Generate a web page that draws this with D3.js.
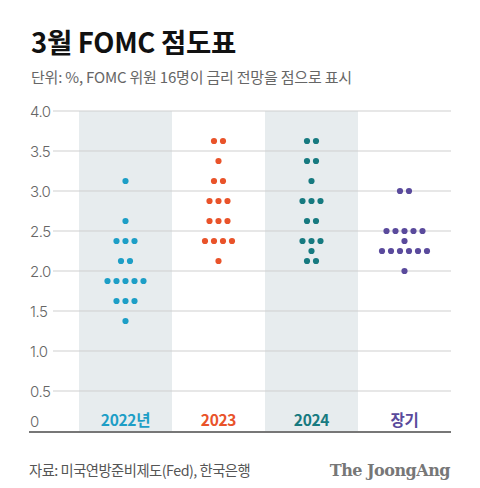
<!DOCTYPE html>
<html><head><meta charset="utf-8">
<script src="https://cdn.jsdelivr.net/npm/d3@7"></script>
<style>
body{margin:0;background:#fff;}
svg{display:block;font-family:"Noto Sans CJK KR","Noto Sans",sans-serif;}
</style></head><body>
<svg id="c" width="480" height="488"></svg>
<script>
const categories = ["2022년","2023","2024","장기"];
const colors = ["#1d9ec6","#e9532a","#177a80","#5a4a9c"];
const shaded = [true,false,true,false];
// rate levels and number of participants per level
const rates2022 = [3.125,2.625,2.375,2.125,1.875,1.625,1.375];
const counts2022 = [1,1,3,2,5,3,1];
const rates2023 = [3.625,3.375,3.125,2.875,2.625,2.375,2.125];
const counts2023 = [2,1,2,3,3,4,1];
const rates2024 = [3.625,3.375,3.125,2.875,2.625,2.375,2.25,2.125];
const counts2024 = [2,2,1,3,2,3,1,2];
const ratesLong = [3.0,2.5,2.375,2.25,2.0];
const countsLong = [2,5,1,6,1];
const yTicks = [0,0.5,1.0,1.5,2.0,2.5,3.0,3.5,4.0];

const series = [
  {rates:rates2022,counts:counts2022},
  {rates:rates2023,counts:counts2023},
  {rates:rates2024,counts:counts2024},
  {rates:ratesLong,counts:countsLong}
];

const svg = d3.select("#c");
const y = d3.scaleLinear().domain([0,4]).range([431,111]);
const x = d3.scaleBand().domain(categories).range([79,451]).padding(0);
const dotStep = 9;

// title
svg.append("text").attr("x",31).attr("y",53).attr("font-size",27.5).attr("font-weight",700)
  .attr("fill","#111").attr("letter-spacing",-0.3).text("3월 FOMC 점도표");
svg.append("text").attr("x",31).attr("y",83).attr("font-size",15).attr("fill","#666")
  .attr("letter-spacing",-0.2).text("단위: %, FOMC 위원 16명이 금리 전망을 점으로 표시");

// bands
svg.selectAll("rect.band").data(categories.filter((c,i)=>shaded[i])).enter().append("rect")
  .attr("x",d=>x(d)).attr("width",x.bandwidth()).attr("y",y(4)).attr("height",y(0)-y(4))
  .attr("fill","#e7ecee");

// gridlines
svg.selectAll("line.grid").data(yTicks.filter(t=>t>0)).enter().append("line")
  .attr("x1",53).attr("x2",451).attr("y1",d=>y(d)).attr("y2",d=>y(d))
  .attr("stroke","#cfcfcf").attr("stroke-width",1);

// tick labels
svg.selectAll("text.tick").data(yTicks).enter().append("text")
  .attr("x",30).attr("y",d=>d===0?y(d)-4:y(d)+5.5)
  .attr("font-family","Inter,Roboto,sans-serif").attr("font-weight",300)
  .attr("font-size",15).attr("fill","#666").attr("letter-spacing",-0.5)
  .text(d=>d===0?"0":d3.format(".1f")(d));

// baseline
svg.append("line").attr("x1",29).attr("x2",451).attr("y1",432).attr("y2",432)
  .attr("stroke","#777").attr("stroke-width",2);

// dots
series.forEach((s,i)=>{
  const cx = x(categories[i]) + x.bandwidth()/2;
  const pts = [];
  s.rates.forEach((r,j)=>{
    const n = s.counts[j];
    for(let k=0;k<n;k++) pts.push({r, dx:(k-(n-1)/2)*dotStep});
  });
  svg.append("g").selectAll("circle").data(pts).enter().append("circle")
    .attr("cx",d=>cx+d.dx).attr("cy",d=>y(d.r)).attr("r",3.1).attr("fill",colors[i]);
  svg.append("text").attr("x",cx).attr("y",426).attr("text-anchor","middle")
    .attr("font-size",15.5).attr("font-weight",700).attr("fill",colors[i])
    .attr("letter-spacing",-0.3).text(categories[i]);
});

// footer
svg.append("text").attr("x",29).attr("y",476).attr("font-size",14.3).attr("fill","#555")
  .attr("letter-spacing",-0.5).text("자료: 미국연방준비제도(Fed), 한국은행");
svg.append("text").attr("x",450).attr("y",476).attr("text-anchor","end")
  .attr("font-family","'DejaVu Serif','Liberation Serif',serif").attr("font-weight",700)
  .attr("font-size",16).attr("fill","#777").attr("letter-spacing",-0.5).text("The JoongAng");
</script></body></html>
